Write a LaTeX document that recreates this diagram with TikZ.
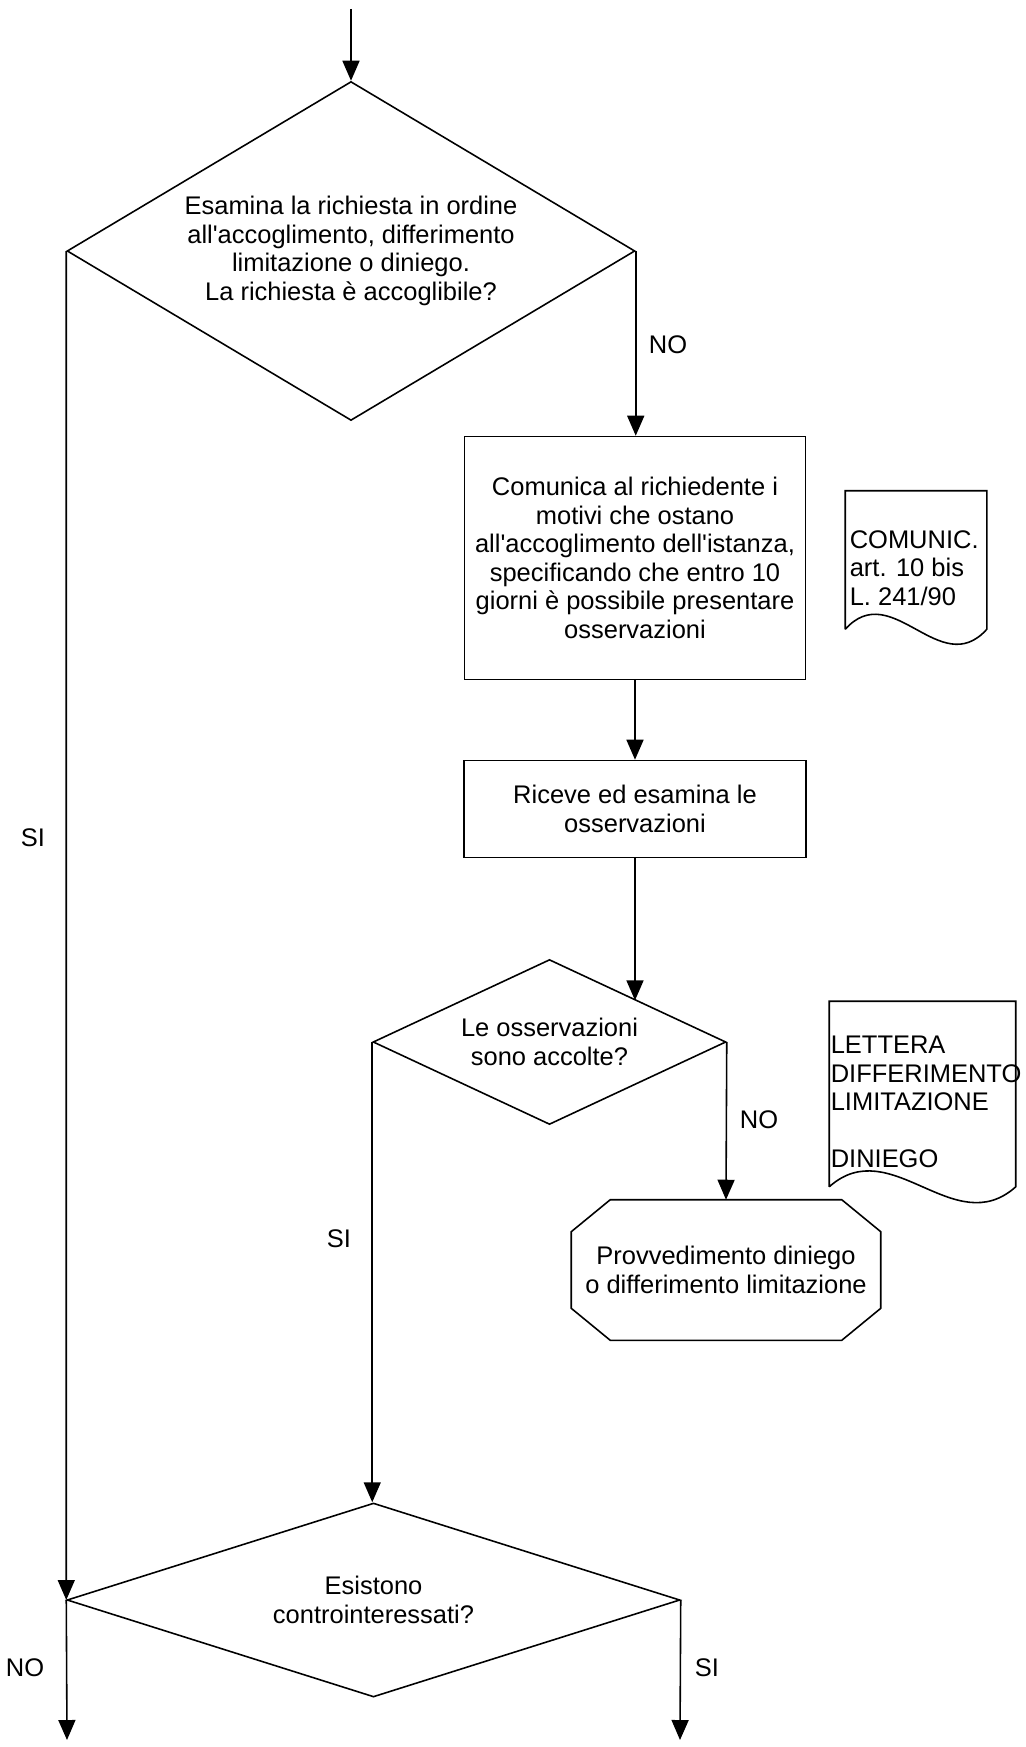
\documentclass[tikz,border=0pt]{standalone}
\usepackage{fontspec}
\setmainfont{Liberation Sans}[Ligatures=TeXOff]
\usepackage{tikz}
\usetikzlibrary{shapes.geometric, arrows.meta}

\tikzset{
  decision/.style={diamond, draw, inner sep=0pt, align=center},
  process/.style={rectangle, draw, inner sep=0pt, align=center},
  frame/.style={rectangle, inner sep=0pt},
  doctext/.style={inner sep=0pt, align=left, anchor=west},
  lbl/.style={inner sep=0pt},
  flow/.style={-{Triangle[length=4mm,width=3.4mm]}}
}

\begin{document}
\begin{tikzpicture}[x=0.02cm, y=-0.02cm, line width=0.9pt,
    font=\fontsize{14.5}{16.2}\selectfont]
        \useasboundingbox (0,0) rectangle (1025,1747);
        % Decisions and steps
        \node[decision, aspect=1.675, minimum width=11.36cm, minimum height=6.78cm] (accogl) at (351,251)
            {Esamina la richiesta in ordine\\all'accoglimento, differimento\\limitazione o diniego.\\La richiesta è accoglibile?};
        \node[process, minimum width=6.82cm, minimum height=4.86cm] (comunica) at (635,558)
            {Comunica al richiedente i\\motivi che ostano\\all'accoglimento dell'istanza,\\specificando che entro 10\\giorni è possibile presentare\\osservazioni};
        \node[process, minimum width=6.84cm, minimum height=1.94cm] (riceve) at (635,809)
            {Riceve ed esamina le\\osservazioni};
        \node[decision, aspect=2.14, minimum width=7.06cm, minimum height=3.3cm] (osserv) at (549.5,1042)
            {Le osservazioni\\sono accolte?};
        \node[frame, align=center, minimum width=6.16cm, minimum height=2.78cm] (provv) at (726,1270)
            {Provvedimento diniego\\o differimento limitazione};
        \node[decision, aspect=3.16, minimum width=12.26cm, minimum height=3.88cm] (controint) at (373.5,1600)
            {Esistono\\controinteressati?};

        % Octagon round the last step
        \draw ([xshift=0.78cm]provv.north west) -- ([xshift=-0.78cm]provv.north east)
            -- ([yshift=-0.64cm]provv.north east) -- ([yshift=0.64cm]provv.south east)
            -- ([xshift=-0.78cm]provv.south east) -- ([xshift=0.78cm]provv.south west)
            -- ([yshift=0.64cm]provv.south west) -- ([yshift=-0.64cm]provv.north west) -- cycle;

        % Documents
        \node[frame, minimum width=2.8cm, minimum height=2.74cm] (comunic) at (916,560) {};
        \node[frame, minimum width=3.7cm, minimum height=3.68cm] (lettera) at (922.5,1094) {};
        \draw (comunic.south west) -- (comunic.north west) -- (comunic.north east) -- (comunic.south east)
            .. controls +(-46.7,52) and +(46.7,-52) .. (comunic.south west);
        \draw (lettera.south west) -- (lettera.north west) -- (lettera.north east) -- (lettera.south east)
            .. controls +(-61.7,55) and +(61.7,-55) .. (lettera.south west);
        \node[doctext] (comtxt) at (849,568) {COMUNIC.\\art. 10 bis\\L. 241/90};
        \node[doctext] (lettxt) at (830,1102) {LETTERA\\DIFFERIMENTO\\LIMITAZIONE\\[16.2pt]DINIEGO};

        % Free ends
        \coordinate (start) at (351,9);
        \coordinate (endno) at (67,1740);
        \coordinate (endsi) at (680,1740);

        % Draw arrows
        \draw[flow] (start) -- (accogl.north);
        \draw[flow] (accogl.east) -- (accogl.east |- comunica.north);
        \draw[flow] (comunica) -- (riceve);
        \draw[flow] (riceve.south) -- (riceve.south |- osserv.north east);
        \draw[flow] (osserv.east) -- (provv.north);
        \draw[flow] (osserv.west) -- (osserv.west |- controint.north);
        \draw[flow] (accogl.west) -- (controint.west);
        \draw[flow] (controint.west) -- (endno);
        \draw[flow] (controint.east) -- (endsi);

        % Labels
        \node[lbl] (no1) at (668,345) {NO};
        \node[lbl] (si1) at (33,838) {SI};
        \node[lbl] (no2) at (759,1120) {NO};
        \node[lbl] (si2) at (339,1239) {SI};
        \node[lbl] (no3) at (25,1668) {NO};
        \node[lbl] (si3) at (707,1668) {SI};
\end{tikzpicture}
\end{document}
